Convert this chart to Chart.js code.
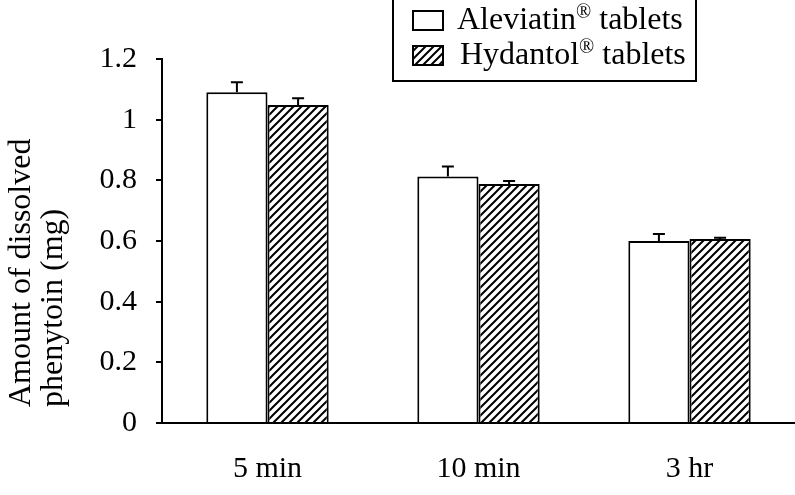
<!DOCTYPE html>
<html>
<head>
<meta charset="utf-8">
<script src="https://cdn.jsdelivr.net/npm/chart.js@4"></script>
<style>
  html, body { margin: 0; padding: 0; background: #fff; }
  #wrap { width: 795px; height: 495px; }
</style>
</head>
<body>
<div id="wrap"><canvas id="dissolutionChart" width="795" height="495"></canvas></div>
<script>
// Data
const categories = ['5 min', '10 min', '3 hr'];
const aleviatin = [1.09, 0.813, 0.60];
const aleviatinErr = [0.033, 0.033, 0.023];
const hydantol = [1.048, 0.788, 0.607];
const hydantolErr = [0.023, 0.010, 0.004];
const yTicks = [0, 0.2, 0.4, 0.6, 0.8, 1, 1.2];
const yTickLabels = ['0', '0.2', '0.4', '0.6', '0.8', '1', '1.2'];
const legendLabels = ['Aleviatin® tablets', 'Hydantol® tablets'];

const FONT = "'Liberation Serif', 'Times New Roman', serif";

// diagonal hatch for the second series
function makeHatch() {
    const c = document.createElement('canvas');
    c.width = 8;
    c.height = 8;
    const g = c.getContext('2d');
    g.fillStyle = '#fff';
    g.fillRect(0, 0, 8, 8);
    g.strokeStyle = '#000';
    g.lineWidth = 2;
    g.beginPath();
    g.moveTo(0, 8); g.lineTo(8, 0);
    g.moveTo(-1, 1); g.lineTo(1, -1);
    g.moveTo(7, 9); g.lineTo(9, 7);
    g.stroke();
    return g.createPattern(c, 'repeat');
}

const errorBars = {
    id: 'errorBars',
    afterDatasetsDraw(chart) {
        const ctx = chart.ctx;
        const y = chart.scales.y;
        ctx.save();
        ctx.strokeStyle = '#000';
        ctx.lineWidth = 2;
        chart.data.datasets.forEach((ds, i) => {
            chart.getDatasetMeta(i).data.forEach((bar, j) => {
                const top = y.getPixelForValue(ds.data[j] + ds.errors[j]);
                ctx.beginPath();
                ctx.moveTo(bar.x, bar.y);
                ctx.lineTo(bar.x, top);
                ctx.moveTo(bar.x - 6, top);
                ctx.lineTo(bar.x + 6, top);
                ctx.stroke();
            });
        });
        ctx.restore();
    }
};

// boxed legend in the top right corner
const boxLegend = {
    id: 'boxLegend',
    afterDraw(chart) {
        const ctx = chart.ctx;
        ctx.save();
        ctx.strokeStyle = '#000';
        ctx.lineWidth = 2;
        ctx.strokeRect(393, -1, 303, 82);
        chart.data.datasets.forEach((ds, i) => {
            const cy = 20 + i * 35;
            ctx.fillStyle = ds.backgroundColor;
            ctx.fillRect(413, cy - 9, 30, 19);
            ctx.strokeRect(413, cy - 9, 30, 19);
            const parts = legendLabels[i].split('®');
            ctx.fillStyle = '#000';
            ctx.textBaseline = 'middle';
            ctx.textAlign = 'left';
            let x = 457 + i * 3;
            ctx.font = '32px ' + FONT;
            ctx.fillText(parts[0], x, cy + 1);
            x += ctx.measureText(parts[0]).width;
            ctx.font = '20px ' + FONT;
            ctx.fillText('®', x, cy - 7);
            x += ctx.measureText('®').width;
            ctx.font = '32px ' + FONT;
            ctx.fillText(parts[1], x, cy + 1);
        });
        ctx.restore();
    }
};

new Chart(document.getElementById('dissolutionChart'), {
    type: 'bar',
    data: {
        labels: categories,
        datasets: [{
            label: legendLabels[0],
            data: aleviatin,
            errors: aleviatinErr,
            backgroundColor: '#fff',
            borderColor: '#000',
            borderWidth: 2,
            categoryPercentage: 0.58,
            barPercentage: 1.0
        }, {
            label: legendLabels[1],
            data: hydantol,
            errors: hydantolErr,
            backgroundColor: makeHatch(),
            borderColor: '#000',
            borderWidth: 2,
            categoryPercentage: 0.58,
            barPercentage: 1.0
        }]
    },
    options: {
        responsive: false,
        animation: false,
        layout: { padding: { top: 59, right: 0, bottom: 0, left: 0 } },
        plugins: {
            legend: { display: false },
            tooltip: { enabled: false }
        },
        scales: {
            x: {
                grid: { display: false, drawTicks: false },
                border: { display: true, color: '#000', width: 2 },
                ticks: { color: '#000', padding: 28, font: { family: FONT, size: 30 } },
                afterFit(scale) { scale.height = 72; }
            },
            y: {
                min: 0,
                max: 1.2,
                afterBuildTicks(scale) { scale.ticks = yTicks.map(v => ({ value: v })); },
                grid: { drawOnChartArea: false, drawTicks: true, tickLength: 6, color: '#000', lineWidth: 2 },
                border: { display: true, color: '#000', width: 2 },
                ticks: {
                    color: '#000',
                    padding: 19,
                    font: { family: FONT, size: 30 },
                    callback: (v, i) => yTickLabels[i]
                },
                title: {
                    display: true,
                    text: ['  Amount of dissolved', '  phenytoin (mg)'],
                    align: 'start',
                    color: '#000',
                    padding: { top: 6, bottom: 0 },
                    font: { family: FONT, size: 32, lineHeight: 1.0 }
                },
                afterFit(scale) { scale.width = 162; }
            }
        }
    },
    plugins: [errorBars, boxLegend]
});
</script>
</body>
</html>
